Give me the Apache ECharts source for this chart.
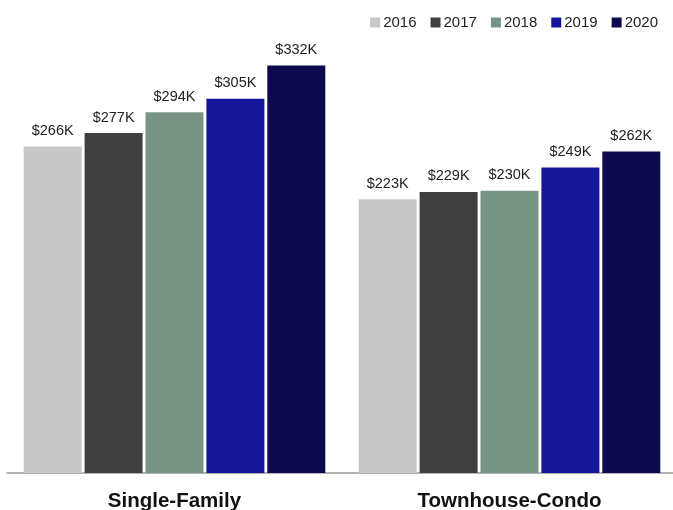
<!DOCTYPE html>
<html><head><meta charset="utf-8">
<script src="https://cdn.jsdelivr.net/npm/echarts@6/dist/echarts.min.js"></script>
<style>html,body{margin:0;padding:0;background:#fff}#c{width:673px;height:510px}</style>
</head><body><div id="c"></div>
<script>
var categories = ['Single-Family', 'Townhouse-Condo'];
var years = ['2016', '2017', '2018', '2019', '2020'];
var v2016 = [266, 223];
var v2017 = [277, 229];
var v2018 = [294, 230];
var v2019 = [305, 249];
var v2020 = [332, 262];
var colors = ['#c8c8c8', '#404040', '#789484', '#16169a', '#0c0a4c'];
var values = [v2016, v2017, v2018, v2019, v2020];

var chart = echarts.init(document.getElementById('c'));
chart.setOption({
  animation: false,
  textStyle: {fontFamily: 'Liberation Sans, Arial, sans-serif'},
  legend: {
    right: 15, top: 15, padding: 0, itemWidth: 10, itemHeight: 10, itemGap: 14,
    icon: 'rect',
    textStyle: {fontSize: 15, color: '#222', padding: [0, 0, 0, -2]},
    data: years
  },
  grid: {left: 7, width: 670, top: 43.5, bottom: 37, containLabel: false, outerBoundsMode: 'none'},
  xAxis: {
    type: 'category', data: categories,
    axisLine: {lineStyle: {color: '#999', width: 1.5}},
    axisTick: {show: false},
    axisLabel: {fontSize: 20.5, fontWeight: 'bold', color: '#111', margin: 18}
  },
  yAxis: {type: 'value', min: 0, max: 350, show: false, splitLine: {show: false}},
  series: years.map(function (y, i) {
    return {
      name: y, type: 'bar', data: values[i],
      barWidth: 58, barGap: '5%',
      itemStyle: {color: colors[i]},
      label: {show: true, position: 'top', distance: 8, fontSize: 14.5, color: '#222',
        formatter: function (p) { return '$' + p.value + 'K'; }}
    };
  })
});
</script></body></html>
